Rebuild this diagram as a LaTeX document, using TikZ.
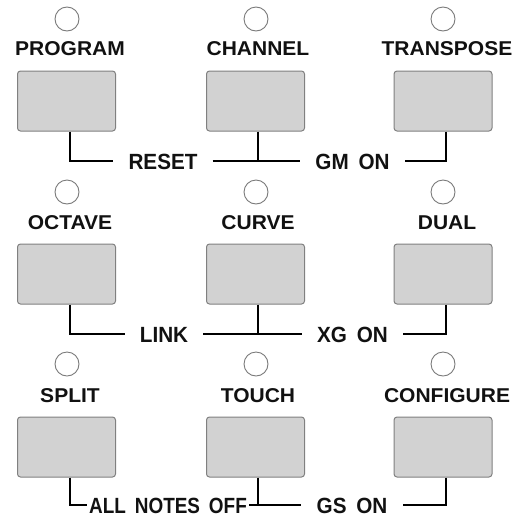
\documentclass[tikz,border=0pt]{standalone}
\usepackage{fontspec}
\setmainfont{Liberation Sans}[WordSpace=1.7]
\definecolor{btnfill}{HTML}{D2D2D2}
\definecolor{btnedge}{HTML}{808080}
\definecolor{ledge}{HTML}{7A7A7A}
\definecolor{ink}{HTML}{111111}
\newcommand{\lbltext}[1]{\scalebox{1.05}[1]{#1}}
\newcommand{\combotext}[2][0.94]{\scalebox{#1}[1]{#2}}
\begin{document}
\begin{tikzpicture}[x=1pt,y=-1pt,
  btn/.style={draw=btnedge,fill=btnfill,line width=1pt,rounded corners=3pt,
    minimum width=98pt,minimum height=60pt,inner sep=0pt},
  led/.style={circle,draw=ledge,fill=white,line width=0.9pt,minimum size=24pt,inner sep=0pt},
  lbl/.style={font=\bfseries\fontsize{20}{20}\selectfont,text=ink,inner sep=0pt,anchor=base},
  combo/.style={font=\bfseries\fontsize{22}{22}\selectfont,text=ink,text height=16pt,
    text depth=0pt,inner ysep=0pt,inner xsep=15pt},
  wire/.style={draw=black,line width=2pt}]
\useasboundingbox (0,0) rectangle (526,517);
% Row 1
\node[led] (l11) at (67,19) {};
\node[led] (l12) at (256,19) {};
\node[led] (l13) at (443,19) {};
\node[lbl] (t11) at (70,55) {\lbltext{PROGRAM}};
\node[lbl] (t12) at (258,55) {\lbltext{CHANNEL}};
\node[lbl] (t13) at (447,55) {\lbltext{TRANSPOSE}};
\node[btn] (b11) at (66.5,101) {};
\node[btn] (b12) at (255.5,101) {};
\node[btn] (b13) at (443,101) {};
\node[combo] (c11) at (163,161) {\combotext{RESET}};
\node[combo] (c12) at (352.5,161) {\combotext{GM ON}};
% Row 2
\node[led] (l21) at (67,192) {};
\node[led] (l22) at (256,192) {};
\node[led] (l23) at (443,192) {};
\node[lbl] (t21) at (70,229) {\lbltext{OCTAVE}};
\node[lbl] (t22) at (258,229) {\lbltext{CURVE}};
\node[lbl] (t23) at (447,229) {\lbltext{DUAL}};
\node[btn] (b21) at (66.5,274) {};
\node[btn] (b22) at (255.5,274) {};
\node[btn] (b23) at (443,274) {};
\node[combo] (c21) at (164,334) {\combotext{LINK}};
\node[combo] (c22) at (352.5,334) {\combotext{XG ON}};
% Row 3
\node[led] (l31) at (67,364) {};
\node[led] (l32) at (256,364) {};
\node[led] (l33) at (443,364) {};
\node[lbl] (t31) at (70,402) {\lbltext{SPLIT}};
\node[lbl] (t32) at (258,402) {\lbltext{TOUCH}};
\node[lbl] (t33) at (447,402) {\lbltext{CONFIGURE}};
\node[btn] (b31) at (66.5,447) {};
\node[btn] (b32) at (255.5,447) {};
\node[btn] (b33) at (443,447) {};
\node[combo,inner xsep=2pt] (c31) at (168,505) {\combotext[0.86]{ALL NOTES OFF}};
\node[combo] (c32) at (352,505) {\combotext{GS ON}};
% Wires
\foreach \r in {1,2,3}{
  \draw[wire] ([xshift=3.5pt]b\r1.south) |- (c\r1.west);
  \draw[wire] (c\r1.east) -- (c\r2.west);
  \draw[wire] ([xshift=2.5pt]b\r2.south) -- ([xshift=2.5pt]b\r2.south |- c\r1.east);
  \draw[wire] ([xshift=3pt]b\r3.south) |- (c\r2.east);
}
\end{tikzpicture}
\end{document}
